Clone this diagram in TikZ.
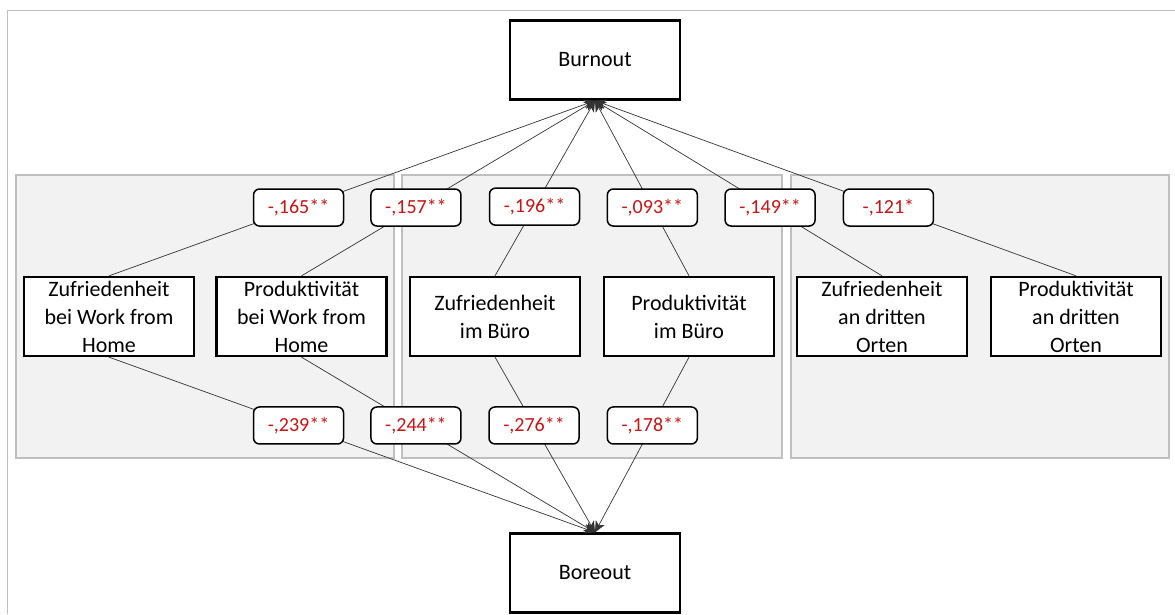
\documentclass[tikz,border=0pt]{standalone}
\usepackage{fontspec}
\setmainfont{Carlito}
\usetikzlibrary{arrows.meta}
\definecolor{panelfill}{HTML}{F2F2F2}
\definecolor{panelline}{HTML}{BFBFBF}
\definecolor{numred}{HTML}{C81414}
\begin{document}
\begin{tikzpicture}[x=1pt,y=-1pt,
  box/.style={draw=black, line width=2.3pt, fill=white, minimum width=170pt, minimum height=79pt, inner sep=0pt, align=center, font=\fontsize{22}{28}\selectfont},
  panel/.style={draw=panelline, line width=1.3pt, fill=panelfill},
  coef/.style={draw=black, line width=1.5pt, fill=white, rounded corners=6pt, minimum width=90pt, minimum height=37pt, inner sep=0pt, text=numred, font=\fontsize{20}{24}\selectfont},
  link/.style={draw=black!80, line width=0.7pt, -{Stealth[length=11pt,width=10pt,inset=3pt]}},
  frame/.style={draw=panelline, line width=1pt}
]
\useasboundingbox (0,0) rectangle (1175,614);
\draw[frame] (7,614) -- (7,10) -- (1175,10);
% panels
\draw[panel] (16,175) rectangle (394,458);
\draw[panel] (402,175) rectangle (782,458);
\draw[panel] (791,175) rectangle (1169,458);
% main nodes
\node[box] (bu) at (595,60) {Burnout};
\node[box] (bo) at (595,573) {Boreout};
\node[box] (zw) at (109,316.5) {Zufriedenheit\\bei Work from\\Home};
\node[box] (pw) at (301.5,316.5) {Produktivität\\bei Work from\\Home};
\node[box] (zb) at (495,316.5) {Zufriedenheit\\im Büro};
\node[box] (pb) at (689,316.5) {Produktivität\\im Büro};
\node[box] (zd) at (882,316.5) {Zufriedenheit\\an dritten\\Orten};
\node[box] (pd) at (1076,316.5) {Produktivität\\an dritten\\Orten};
% edges to Burnout
\draw[link] (zw.north) -- node[coef,pos=0.39] {-,165**} (bu.south);
\draw[link] (pw.north) -- node[coef,pos=0.39] {-,157**} (bu.south);
\draw[link] (zb.north) -- node[coef,pos=0.395] {-,196**} (bu.south);
\draw[link] (pb.north) -- node[coef,pos=0.39] {-,093**} (bu.south);
\draw[link] (zd.north) -- node[coef,pos=0.39] {-,149**} (bu.south);
\draw[link] (pd.north) -- node[coef,pos=0.39] {-,121*} (bu.south);
% edges to Boreout
\draw[link] (zw.south) -- node[coef,pos=0.39] {-,239**} (bo.north);
\draw[link] (pw.south) -- node[coef,pos=0.39] {-,244**} (bo.north);
\draw[link] (zb.south) -- node[coef,pos=0.39] {-,276**} (bo.north);
\draw[link] (pb.south) -- node[coef,pos=0.39] {-,178**} (bo.north);
\end{tikzpicture}
\end{document}
